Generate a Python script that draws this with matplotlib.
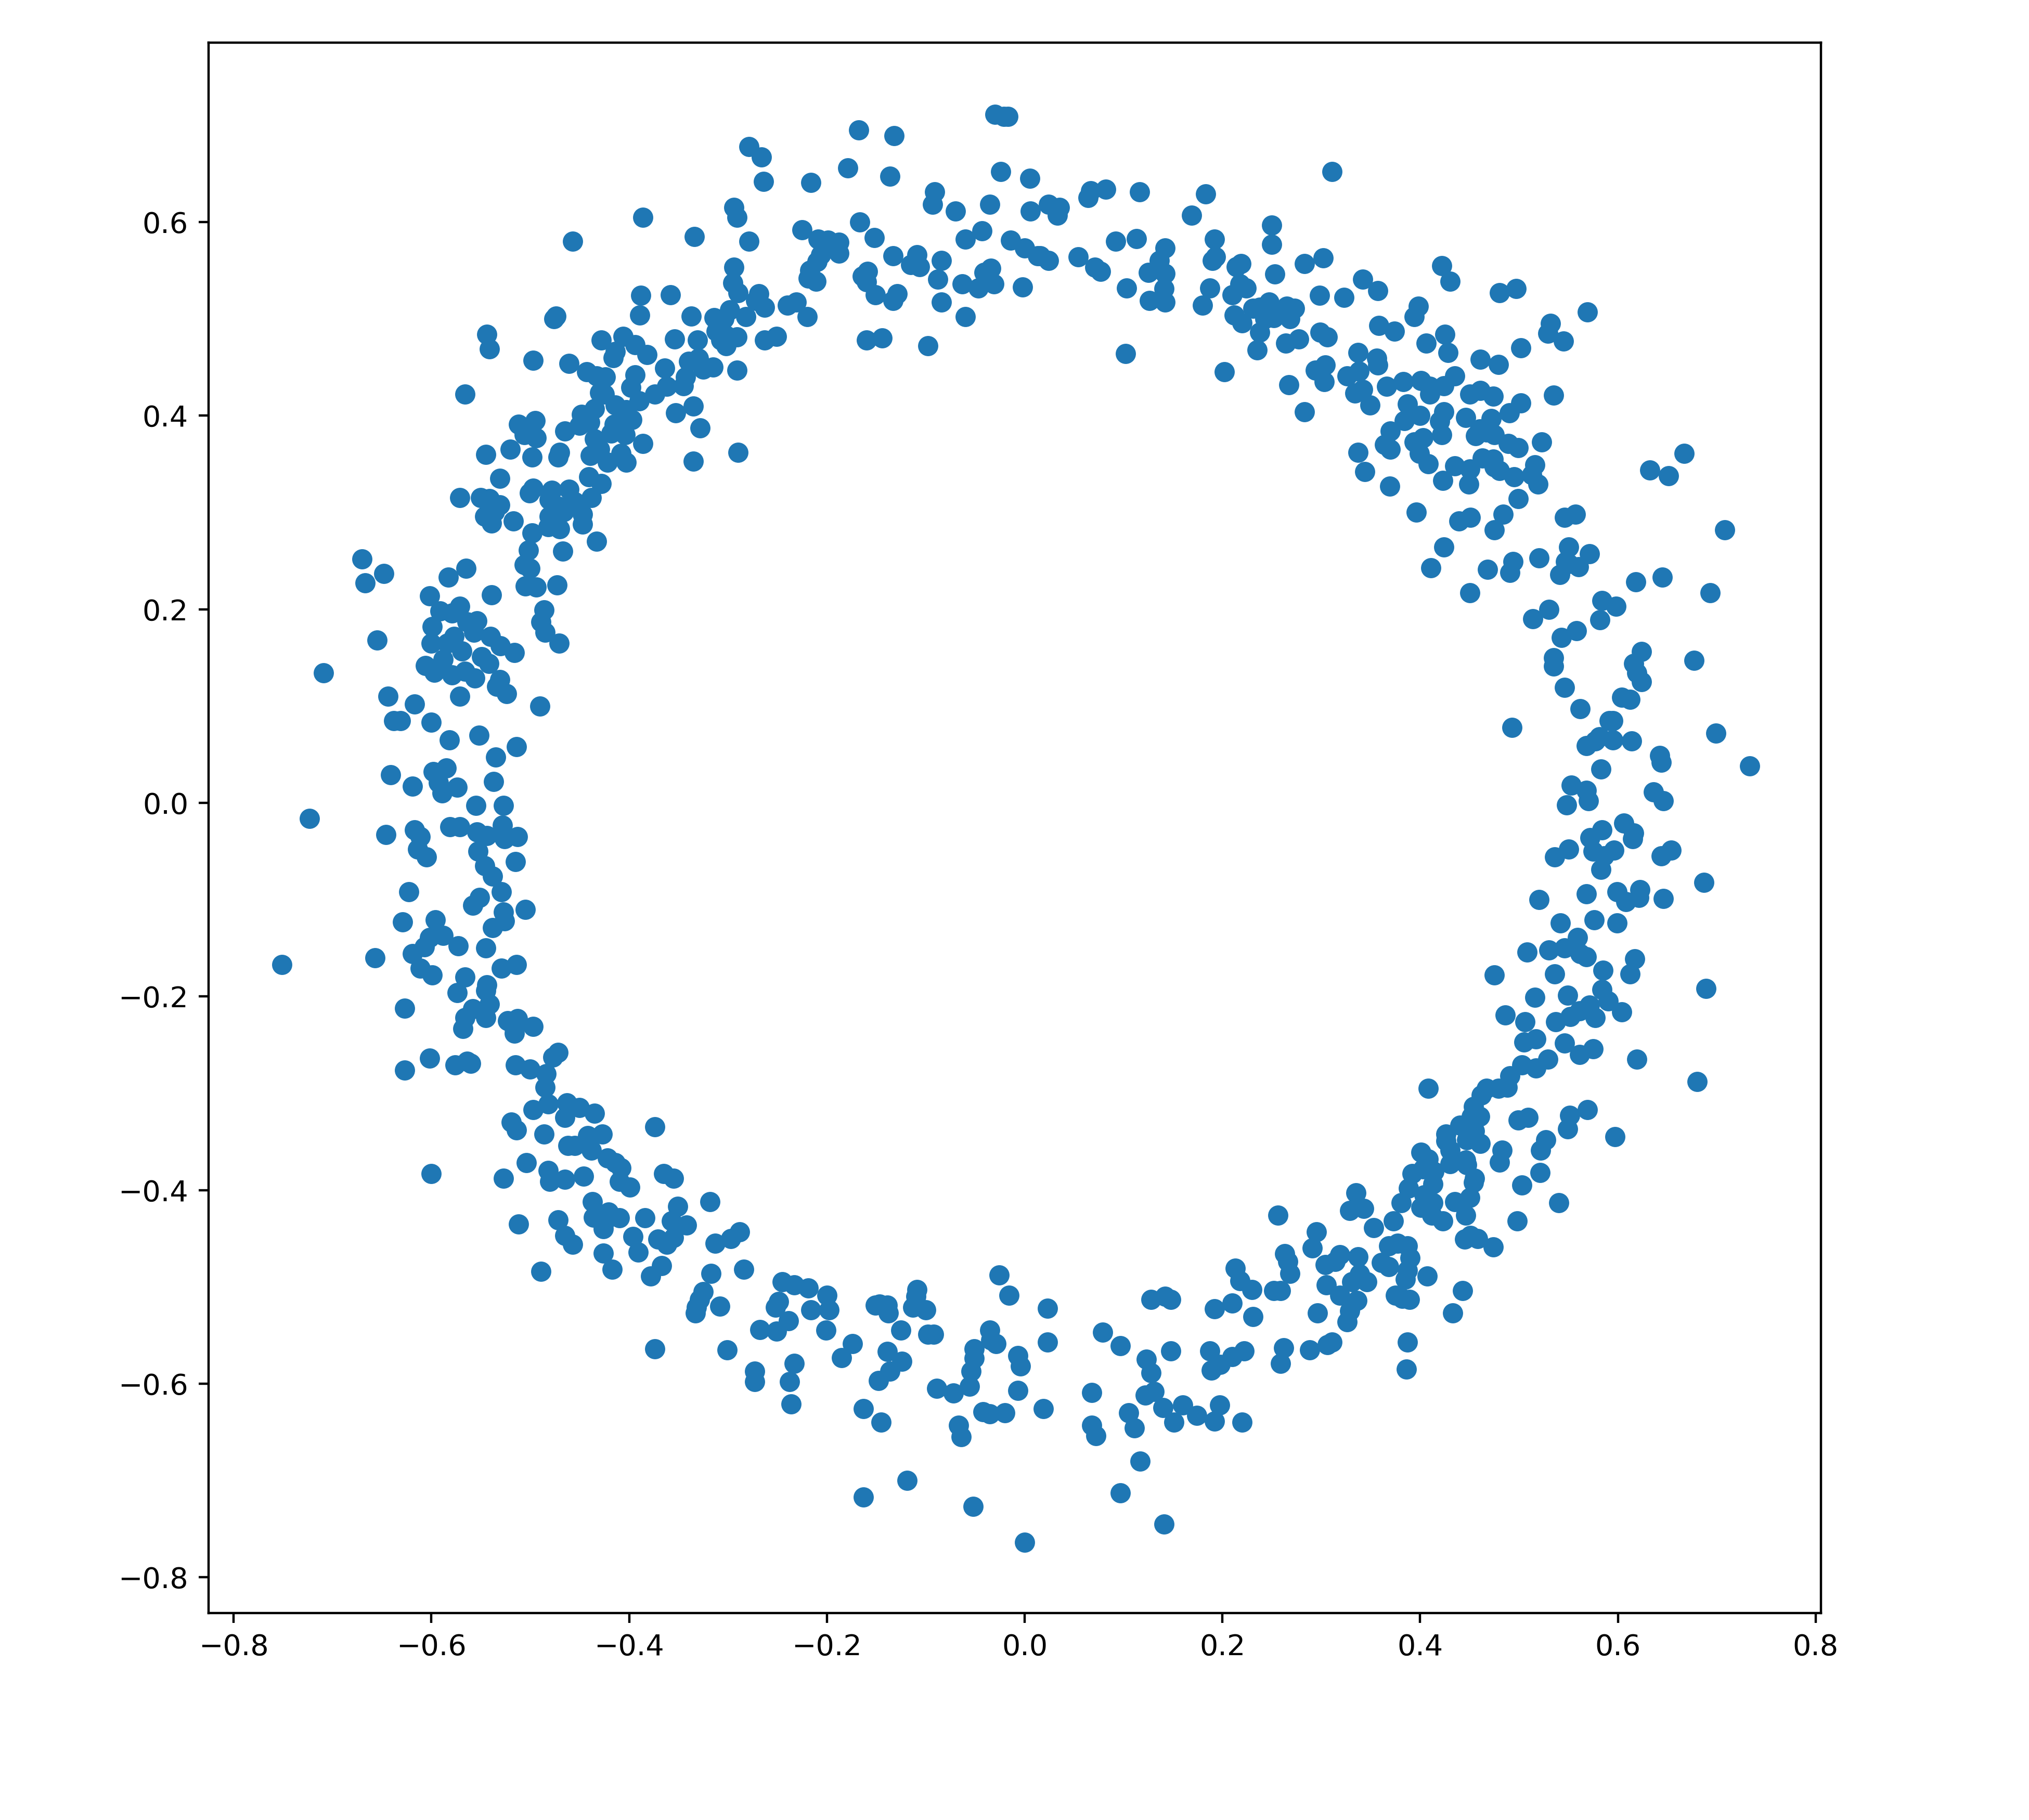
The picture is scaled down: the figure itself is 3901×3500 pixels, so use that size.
#Ring of scattered points
import numpy as np
import matplotlib
matplotlib.use('Agg')
import matplotlib.pyplot as plt

#(x, y) values, upper left part of the ring
upper_left = [
(-0.168,0.695),(-0.132,0.689),(-0.030,0.711),(-0.021,0.709),(-0.017,0.709),(-0.279,0.678),(-0.266,0.667),(-0.264,0.642),
(-0.216,0.641),(-0.179,0.656),(-0.136,0.647),(-0.024,0.652),(0.005,0.645),(-0.091,0.631),(-0.093,0.618),(-0.070,0.611),
(-0.035,0.618),(0.006,0.611),(-0.294,0.615),(-0.291,0.605),(-0.386,0.605),(-0.457,0.580),(-0.334,0.585),(-0.279,0.580),
(-0.167,0.600),(-0.152,0.584),(-0.225,0.592),(-0.209,0.582),(-0.199,0.581),(-0.188,0.579),(-0.188,0.568),(-0.206,0.566),
(-0.210,0.559),(-0.217,0.550),(-0.219,0.542),(-0.211,0.539),(-0.133,0.565),(-0.109,0.566),(-0.115,0.556),(-0.106,0.554),
(-0.084,0.560),(-0.088,0.541),(-0.060,0.582),(-0.043,0.591),(-0.014,0.581),(0.000,0.573),(0.013,0.565),(-0.034,0.552),
(-0.041,0.548),(-0.031,0.536),(-0.047,0.532),(-0.063,0.536),(-0.002,0.533),(-0.084,0.517),(-0.060,0.502),(-0.159,0.549),
(-0.164,0.544),(-0.160,0.538),(-0.151,0.525),(-0.129,0.526),(-0.133,0.519),(-0.160,0.478),(-0.144,0.480),(-0.098,0.472),
(-0.294,0.553),(-0.295,0.537),(-0.290,0.527),(-0.269,0.526),(-0.272,0.519),(-0.263,0.512),(-0.388,0.524),(-0.358,0.525),
(-0.389,0.504),(-0.337,0.503),(-0.314,0.501),(-0.298,0.509),(-0.304,0.500),(-0.282,0.502),(-0.240,0.514),(-0.231,0.517),
(-0.220,0.502),(-0.263,0.478),(-0.251,0.482),(-0.312,0.487),(-0.302,0.483),(-0.307,0.478),(-0.302,0.472),(-0.291,0.481),
(-0.474,0.503),(-0.476,0.500),(-0.544,0.484),(-0.541,0.469),(-0.497,0.457),(-0.461,0.454),(-0.428,0.478),(-0.406,0.482),
(-0.394,0.473),(-0.416,0.460),(-0.414,0.466),(-0.382,0.463),(-0.354,0.479),(-0.331,0.478),(-0.330,0.459),(-0.340,0.456),
(-0.325,0.448),(-0.315,0.450),(-0.291,0.447),(-0.364,0.449),(-0.343,0.440),(-0.443,0.445),(-0.433,0.441),(-0.424,0.440),
(-0.394,0.442),(-0.398,0.429),(-0.362,0.430),(-0.345,0.431),(-0.374,0.422),(-0.430,0.424),(-0.425,0.422),(-0.390,0.415),
(-0.566,0.422),(-0.414,0.411),(-0.435,0.407),(-0.403,0.406),(-0.448,0.401),(-0.440,0.393),(-0.450,0.390),(-0.415,0.391),
(-0.397,0.396),(-0.353,0.403),(-0.335,0.410),(-0.328,0.387),(-0.512,0.391),(-0.495,0.395),(-0.465,0.384),(-0.506,0.380),
(-0.494,0.377),(-0.418,0.382),(-0.404,0.380),(-0.435,0.376),(-0.386,0.371),(-0.545,0.360),(-0.520,0.365),(-0.498,0.357),
(-0.470,0.362),(-0.472,0.357),(-0.439,0.359),(-0.430,0.365),(-0.408,0.361),(-0.422,0.352),(-0.403,0.352),(-0.335,0.353),
(-0.290,0.362),(-0.441,0.337),(-0.428,0.330),(-0.531,0.335),(-0.497,0.325),(-0.501,0.320),(-0.571,0.315),(-0.478,0.323),
(-0.461,0.324),(-0.438,0.315),(-0.550,0.315),(-0.541,0.314),(-0.531,0.308),(-0.481,0.313),(-0.455,0.311),(-0.471,0.306),
(-0.466,0.301),(-0.546,0.296),(-0.539,0.289),(-0.536,0.301),(-0.517,0.291),(-0.481,0.296),(-0.447,0.298),(-0.447,0.288),
(-0.482,0.285),(-0.470,0.283),(-0.498,0.279),(-0.433,0.270),(-0.502,0.261),(-0.467,0.260),(-0.670,0.252),(-0.648,0.237),
(-0.667,0.227),(-0.565,0.242),(-0.583,0.233),(-0.506,0.246),(-0.500,0.242),(-0.602,0.214),(-0.539,0.215),(-0.505,0.224),
(-0.494,0.223),(-0.473,0.225),(-0.571,0.203),(-0.591,0.198),(-0.579,0.196),(-0.486,0.199),(-0.489,0.187),(-0.485,0.176),
(-0.471,0.165),(-0.655,0.168),(-0.599,0.182),(-0.564,0.187),(-0.554,0.188),(-0.557,0.176),(-0.577,0.172),(-0.540,0.172),
(-0.530,0.162),(-0.516,0.155),(-0.600,0.165),(-0.584,0.165),(-0.569,0.157),(-0.709,0.134),(-0.549,0.151),(-0.542,0.144),
(-0.606,0.142),(-0.588,0.148),(-0.597,0.135),(-0.579,0.132),(-0.566,0.136),(-0.556,0.129),(-0.531,0.127),(-0.534,0.120),
(-0.524,0.113),(-0.644,0.110),(-0.617,0.102),(-0.571,0.110),(-0.490,0.100),(-0.638,0.085),(-0.631,0.085),(-0.600,0.083),
(-0.582,0.065),(-0.552,0.070),(-0.514,0.058),(-0.535,0.047),(-0.641,0.029),(-0.598,0.032),(-0.585,0.036),(-0.593,0.021),
(-0.619,0.017),(-0.574,0.016),(-0.589,0.010),(-0.537,0.022),(-0.555,-0.003),(-0.527,-0.003),(-0.723,-0.016),
]

#lower left part
lower_left = [
(-0.646,-0.033),(-0.617,-0.028),(-0.611,-0.035),(-0.581,-0.025),(-0.571,-0.025),(-0.554,-0.030),(-0.544,-0.034),(-0.528,-0.023),
(-0.526,-0.037),(-0.513,-0.035),(-0.614,-0.048),(-0.605,-0.056),(-0.553,-0.050),(-0.515,-0.061),(-0.546,-0.065),(-0.538,-0.076),
(-0.623,-0.092),(-0.529,-0.092),(-0.551,-0.098),(-0.558,-0.106),(-0.505,-0.110),(-0.629,-0.123),(-0.596,-0.121),(-0.527,-0.113),
(-0.526,-0.122),(-0.538,-0.129),(-0.588,-0.137),(-0.602,-0.139),(-0.607,-0.149),(-0.573,-0.148),(-0.545,-0.150),(-0.657,-0.160),
(-0.619,-0.156),(-0.751,-0.167),(-0.529,-0.171),(-0.514,-0.167),(-0.611,-0.171),(-0.599,-0.178),(-0.566,-0.180),(-0.544,-0.188),
(-0.545,-0.194),(-0.574,-0.196),(-0.541,-0.208),(-0.627,-0.212),(-0.558,-0.213),(-0.566,-0.222),(-0.545,-0.222),(-0.568,-0.233),
(-0.523,-0.225),(-0.513,-0.223),(-0.516,-0.233),(-0.516,-0.238),(-0.497,-0.231),(-0.472,-0.258),(-0.477,-0.263),(-0.602,-0.264),
(-0.564,-0.267),(-0.560,-0.269),(-0.576,-0.271),(-0.627,-0.276),(-0.515,-0.271),(-0.500,-0.275),(-0.484,-0.280),(-0.485,-0.294),
(-0.482,-0.311),(-0.463,-0.310),(-0.450,-0.315),(-0.497,-0.317),(-0.465,-0.325),(-0.435,-0.321),(-0.374,-0.335),(-0.519,-0.330),
(-0.514,-0.338),(-0.486,-0.342),(-0.427,-0.342),(-0.442,-0.344),(-0.462,-0.354),(-0.455,-0.354),(-0.438,-0.359),(-0.422,-0.367),
(-0.414,-0.372),(-0.408,-0.377),(-0.504,-0.372),(-0.482,-0.380),(-0.365,-0.383),(-0.355,-0.388),(-0.600,-0.383),(-0.480,-0.391),
(-0.465,-0.389),(-0.446,-0.386),(-0.527,-0.388),(-0.410,-0.391),(-0.399,-0.397),(-0.437,-0.412),(-0.318,-0.412),(-0.351,-0.417),
(-0.421,-0.423),(-0.436,-0.428),(-0.410,-0.429),(-0.384,-0.429),(-0.512,-0.435),(-0.472,-0.431),(-0.425,-0.433),(-0.357,-0.432),
(-0.342,-0.436),(-0.426,-0.440),(-0.465,-0.447),(-0.396,-0.448),(-0.288,-0.443),(-0.355,-0.449),(-0.371,-0.451),(-0.362,-0.456),
(-0.297,-0.450),(-0.313,-0.455),(-0.457,-0.456),(-0.391,-0.464),(-0.426,-0.465),(-0.489,-0.484),(-0.417,-0.482),(-0.367,-0.478),
(-0.378,-0.489),(-0.317,-0.486),(-0.284,-0.482),(-0.245,-0.495),(-0.233,-0.498),(-0.219,-0.501),(-0.200,-0.509),(-0.325,-0.505),
(-0.329,-0.513),(-0.332,-0.521),(-0.333,-0.527),(-0.308,-0.520),(-0.249,-0.515),(-0.252,-0.521),(-0.216,-0.524),(-0.198,-0.524),
(-0.147,-0.518),(-0.139,-0.519),(-0.138,-0.527),(-0.151,-0.519),(-0.109,-0.503),(-0.110,-0.510),(-0.113,-0.521),(-0.100,-0.524),
(-0.026,-0.488),(-0.016,-0.509),(-0.239,-0.535),(-0.268,-0.544),(-0.251,-0.546),(-0.201,-0.545),(-0.125,-0.545),(-0.098,-0.549),
(-0.092,-0.549),(-0.035,-0.545),(-0.034,-0.555),(-0.029,-0.559),(-0.174,-0.559),(-0.185,-0.573),(-0.139,-0.567),(-0.124,-0.577),
(-0.051,-0.564),(-0.051,-0.574),(-0.007,-0.571),(-0.004,-0.582),(-0.054,-0.587),(-0.136,-0.587),(-0.148,-0.597),(-0.374,-0.564),
(-0.301,-0.565),(-0.273,-0.587),(-0.273,-0.598),(-0.233,-0.579),(-0.238,-0.598),(-0.236,-0.621),(-0.163,-0.626),(-0.145,-0.640),
(-0.089,-0.605),(-0.072,-0.610),(-0.056,-0.603),(-0.007,-0.607),(-0.042,-0.629),(-0.035,-0.631),(-0.020,-0.630),(-0.067,-0.643),
(-0.064,-0.655),(-0.163,-0.717),(-0.119,-0.700),(-0.052,-0.727),(0.000,-0.764),
]

#upper right part
upper_right = [
(0.311,0.652),(0.024,0.618),(0.035,0.615),(0.033,0.607),(0.067,0.632),(0.064,0.625),(0.082,0.634),(0.116,0.631),
(0.183,0.629),(0.169,0.607),(0.092,0.580),(0.113,0.583),(0.192,0.582),(0.193,0.564),(0.190,0.560),(0.250,0.597),
(0.250,0.577),(0.142,0.573),(0.136,0.560),(0.016,0.565),(0.024,0.560),(0.054,0.564),(0.071,0.553),(0.077,0.549),
(0.103,0.532),(0.125,0.548),(0.142,0.547),(0.141,0.531),(0.126,0.519),(0.142,0.517),(0.102,0.464),(0.180,0.514),
(0.187,0.532),(0.219,0.557),(0.214,0.554),(0.218,0.536),(0.224,0.532),(0.210,0.525),(0.253,0.546),(0.283,0.557),
(0.302,0.563),(0.342,0.541),(0.357,0.529),(0.298,0.524),(0.323,0.522),(0.422,0.555),(0.430,0.539),(0.480,0.527),
(0.497,0.531),(0.569,0.507),(0.212,0.504),(0.220,0.496),(0.231,0.511),(0.238,0.512),(0.247,0.517),(0.246,0.506),
(0.243,0.500),(0.252,0.501),(0.265,0.513),(0.273,0.511),(0.268,0.500),(0.238,0.486),(0.235,0.468),(0.264,0.475),
(0.277,0.479),(0.299,0.486),(0.306,0.481),(0.202,0.445),(0.267,0.432),(0.283,0.404),(0.358,0.493),(0.374,0.487),
(0.398,0.513),(0.394,0.502),(0.425,0.484),(0.406,0.475),(0.428,0.465),(0.337,0.465),(0.356,0.459),(0.357,0.452),
(0.304,0.452),(0.294,0.447),(0.338,0.446),(0.326,0.441),(0.303,0.435),(0.342,0.427),(0.334,0.423),(0.349,0.411),
(0.366,0.430),(0.383,0.435),(0.401,0.436),(0.410,0.430),(0.410,0.422),(0.424,0.431),(0.435,0.441),(0.461,0.458),
(0.479,0.453),(0.502,0.470),(0.532,0.495),(0.529,0.485),(0.545,0.477),(0.450,0.422),(0.461,0.426),(0.474,0.420),
(0.502,0.413),(0.490,0.403),(0.535,0.421),(0.387,0.412),(0.424,0.404),(0.400,0.400),(0.384,0.395),(0.420,0.394),
(0.446,0.398),(0.472,0.397),(0.370,0.384),(0.422,0.380),(0.403,0.377),(0.394,0.373),(0.364,0.370),(0.370,0.365),
(0.460,0.386),(0.456,0.379),(0.467,0.383),(0.475,0.380),(0.489,0.371),(0.499,0.367),(0.523,0.373),(0.337,0.362),
(0.399,0.361),(0.344,0.342),(0.408,0.350),(0.435,0.348),(0.463,0.356),(0.474,0.355),(0.450,0.345),(0.475,0.347),
(0.480,0.343),(0.516,0.349),(0.513,0.339),(0.495,0.337),(0.423,0.333),(0.449,0.329),(0.519,0.329),(0.369,0.327),
(0.499,0.314),(0.632,0.344),(0.667,0.361),(0.651,0.338),(0.396,0.300),(0.439,0.291),(0.451,0.295),(0.484,0.298),
(0.475,0.282),(0.546,0.295),(0.557,0.298),(0.708,0.282),(0.424,0.264),(0.550,0.264),(0.571,0.257),(0.547,0.249),
(0.560,0.244),(0.541,0.236),(0.550,0.247),(0.411,0.243),(0.468,0.241),(0.494,0.249),(0.491,0.238),(0.520,0.253),
(0.450,0.217),(0.618,0.228),(0.645,0.233),(0.693,0.217),(0.584,0.209),(0.598,0.203),(0.530,0.200),(0.514,0.190),
(0.582,0.189),(0.558,0.178),(0.543,0.171),(0.624,0.156),(0.535,0.150),(0.535,0.141),(0.616,0.144),(0.677,0.147),
(0.619,0.134),(0.624,0.125),(0.546,0.119),(0.604,0.109),(0.612,0.107),(0.562,0.097),(0.493,0.078),(0.591,0.085),
(0.595,0.085),(0.581,0.068),(0.699,0.072),(0.595,0.065),(0.614,0.064),(0.568,0.059),(0.577,0.064),(0.642,0.049),
(0.644,0.042),(0.733,0.038),(0.583,0.035),(0.553,0.018),(0.568,0.013),(0.636,0.011),(0.570,0.002),(0.548,-0.002),
(0.646,0.002),
]

#lower right part
lower_right = [
(0.606,-0.021),(0.616,-0.031),(0.615,-0.037),(0.584,-0.028),(0.572,-0.036),(0.550,-0.048),(0.536,-0.056),(0.596,-0.049),
(0.575,-0.050),(0.586,-0.055),(0.583,-0.069),(0.654,-0.049),(0.644,-0.055),(0.687,-0.082),(0.568,-0.094),(0.520,-0.100),
(0.599,-0.092),(0.608,-0.102),(0.622,-0.090),(0.621,-0.098),(0.646,-0.099),(0.542,-0.124),(0.576,-0.121),(0.599,-0.124),
(0.508,-0.154),(0.530,-0.152),(0.546,-0.150),(0.559,-0.139),(0.562,-0.156),(0.568,-0.159),(0.617,-0.161),(0.585,-0.173),
(0.612,-0.177),(0.475,-0.178),(0.536,-0.177),(0.689,-0.192),(0.584,-0.193),(0.549,-0.199),(0.516,-0.201),(0.590,-0.205),
(0.571,-0.209),(0.561,-0.215),(0.604,-0.216),(0.486,-0.219),(0.506,-0.226),(0.552,-0.221),(0.537,-0.226),(0.577,-0.222),
(0.517,-0.244),(0.505,-0.247),(0.546,-0.248),(0.575,-0.254),(0.561,-0.260),(0.619,-0.265),(0.529,-0.265),(0.503,-0.271),
(0.517,-0.274),(0.491,-0.282),(0.680,-0.288),(0.408,-0.295),(0.467,-0.295),(0.479,-0.295),(0.488,-0.294),(0.462,-0.302),
(0.454,-0.314),(0.460,-0.324),(0.452,-0.324),(0.440,-0.333),(0.499,-0.328),(0.509,-0.325),(0.569,-0.317),(0.551,-0.323),
(0.549,-0.337),(0.597,-0.345),(0.426,-0.342),(0.455,-0.339),(0.447,-0.348),(0.461,-0.352),(0.426,-0.349),(0.527,-0.348),
(0.522,-0.359),(0.401,-0.361),(0.430,-0.359),(0.483,-0.359),(0.408,-0.368),(0.480,-0.371),(0.446,-0.369),(0.430,-0.373),
(0.447,-0.374),(0.521,-0.382),(0.414,-0.381),(0.392,-0.383),(0.455,-0.388),(0.403,-0.378),(0.454,-0.392),(0.413,-0.394),
(0.503,-0.395),(0.388,-0.398),(0.404,-0.405),(0.540,-0.413),(0.450,-0.408),(0.435,-0.412),(0.413,-0.413),(0.381,-0.413),
(0.401,-0.418),(0.412,-0.426),(0.446,-0.426),(0.423,-0.432),(0.498,-0.432),(0.335,-0.403),(0.256,-0.426),(0.329,-0.421),
(0.343,-0.419),(0.353,-0.439),(0.373,-0.432),(0.295,-0.443),(0.445,-0.451),(0.451,-0.447),(0.458,-0.450),(0.474,-0.459),
(0.377,-0.455),(0.368,-0.458),(0.387,-0.458),(0.291,-0.460),(0.263,-0.466),(0.319,-0.467),(0.337,-0.469),(0.390,-0.470),
(0.266,-0.474),(0.304,-0.477),(0.314,-0.474),(0.361,-0.475),(0.368,-0.479),(0.387,-0.483),(0.213,-0.481),(0.268,-0.486),
(0.407,-0.489),(0.339,-0.487),(0.385,-0.492),(0.218,-0.494),(0.346,-0.495),(0.331,-0.495),(0.305,-0.498),(0.230,-0.503),
(0.252,-0.504),(0.259,-0.504),(0.319,-0.509),(0.443,-0.504),(0.142,-0.510),(0.128,-0.513),(0.148,-0.513),(0.023,-0.522),
(0.210,-0.517),(0.192,-0.523),(0.336,-0.514),(0.375,-0.509),(0.389,-0.513),(0.382,-0.512),(0.329,-0.525),(0.296,-0.527),
(0.433,-0.527),(0.231,-0.531),(0.326,-0.536),(0.079,-0.547),(0.023,-0.557),(0.097,-0.561),(0.387,-0.557),(0.148,-0.566),
(0.187,-0.566),(0.222,-0.566),(0.210,-0.572),(0.262,-0.563),(0.288,-0.565),(0.311,-0.557),(0.306,-0.560),(0.123,-0.575),
(0.198,-0.580),(0.189,-0.586),(0.128,-0.589),(0.259,-0.579),(0.386,-0.585),(0.068,-0.609),(0.131,-0.608),(0.122,-0.612),
(0.019,-0.626),(0.140,-0.625),(0.160,-0.622),(0.197,-0.622),(0.105,-0.630),(0.174,-0.633),(0.192,-0.639),(0.220,-0.640),
(0.151,-0.640),(0.068,-0.643),(0.111,-0.646),(0.072,-0.654),(0.117,-0.680),(0.097,-0.713),(0.141,-0.745),
]

x_ticks = [-0.8, -0.6, -0.4, -0.2, 0.0, 0.2, 0.4, 0.6, 0.8]
y_ticks = [-0.8, -0.6, -0.4, -0.2, 0.0, 0.2, 0.4, 0.6]

points = np.array(upper_left + lower_left + upper_right + lower_right)

dpi = 400
fig = plt.figure(figsize=(3901/dpi, 3500/dpi), dpi=dpi)
ax = fig.add_axes([401/3901, 1-3102/3500, 3100/3901, 3020/3500])
ax.scatter(points[:,0], points[:,1])
ax.set_xlim(-0.8253, 0.8053)
ax.set_ylim(-0.8370, 0.7853)
ax.set_xticks(x_ticks)
ax.set_yticks(y_ticks)
fig.savefig('out.png', dpi=dpi)
